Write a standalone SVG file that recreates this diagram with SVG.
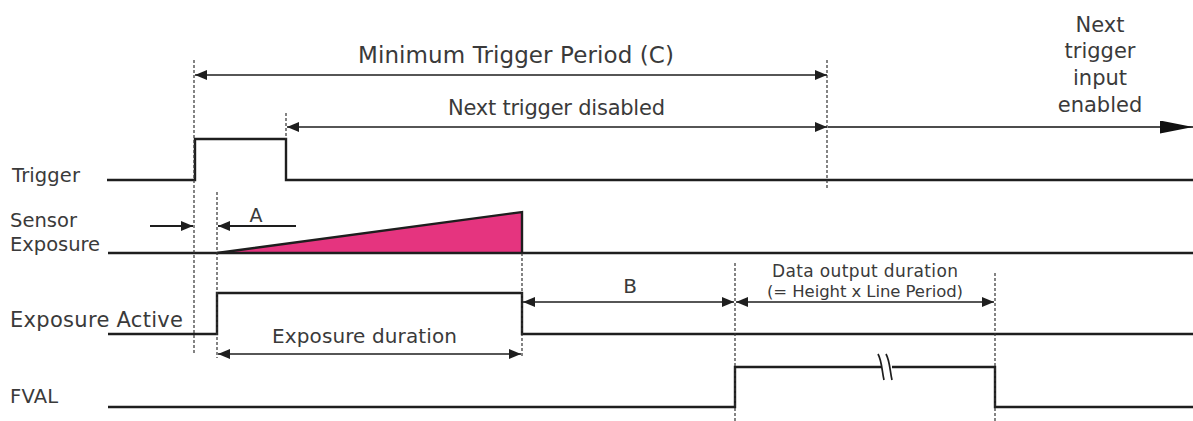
<svg xmlns="http://www.w3.org/2000/svg" width="1193" height="421" viewBox="0 0 1193 421">
<style>
text{font-family:"DejaVu Sans","Liberation Sans",sans-serif;fill:#3a3a3a}
.sig{fill:none;stroke:#1e1e1e;stroke-width:2.4}
.dash{fill:none;stroke:#333;stroke-width:1.2;stroke-dasharray:3 2}
.dim{fill:none;stroke:#1e1e1e;stroke-width:1.4;marker-start:url(#ah);marker-end:url(#ah)}
.lbl{font-size:19.5px}
</style>
<defs>
<marker id="ah" markerUnits="userSpaceOnUse" markerWidth="13" markerHeight="11" refX="12" refY="5" orient="auto-start-reverse">
<path d="M0,0 L12,5 L0,10 z" fill="#1e1e1e"/>
</marker>
<marker id="big" markerUnits="userSpaceOnUse" markerWidth="34" markerHeight="14" refX="33" refY="6.5" orient="auto">
<path d="M0,0 L33,6.5 L0,13 z" fill="#111"/>
</marker>
</defs>

<g id="labels">
<text class="lbl" x="12" y="182" textLength="68">Trigger</text>
<text class="lbl" x="10" y="227" textLength="67">Sensor</text>
<text class="lbl" x="10" y="251" textLength="90">Exposure</text>
<text x="10" y="327" font-size="21" textLength="173">Exposure Active</text>
<text class="lbl" x="10" y="403" textLength="48">FVAL</text>
</g>

<g id="trigger">
<polyline class="sig" points="107,180 195,180 195,139 286,139 286,180 1193,180"/>
</g>

<g id="sensor-exposure">
<polygon points="217,253 522,212 522,253" fill="#e5347f"/>
<polyline class="sig" points="217,253 522,212 522,253"/>
<line class="sig" x1="108" y1="253" x2="1193" y2="253"/>
</g>

<g id="exposure-active">
<polyline class="sig" points="108,334 217,334 217,293 522,293 522,334 1193,334"/>
</g>

<g id="fval">
<polyline class="sig" points="108,407 735,407 735,367 995,367 995,407 1193,407"/>
<line x1="881" y1="367" x2="892" y2="367" stroke="#fff" stroke-width="4"/>
<path d="M878,354 C882,361 882,372 884,380" fill="none" stroke="#1e1e1e" stroke-width="1.7"/>
<path d="M886,354 C890,361 890,372 892,380" fill="none" stroke="#1e1e1e" stroke-width="1.7"/>
</g>

<g id="guides">
<line class="dash" x1="194" y1="60" x2="194" y2="355"/>
<line class="dash" x1="217" y1="192" x2="217" y2="358"/>
<line class="dash" x1="286" y1="113" x2="286" y2="139"/>
<line class="dash" x1="827" y1="60" x2="827" y2="190"/>
<line class="dash" x1="522" y1="253" x2="522" y2="356"/>
<line class="dash" x1="735" y1="263" x2="735" y2="421"/>
<line class="dash" x1="995" y1="273" x2="995" y2="421"/>
</g>

<g id="connectors">
<line class="dim" x1="195" y1="75" x2="827" y2="75"/>
<line class="dim" x1="287" y1="127" x2="827" y2="127"/>
<line x1="828" y1="127" x2="1193" y2="127" stroke="#111" stroke-width="1.6" marker-end="url(#big)"/>
<line x1="150" y1="226" x2="193" y2="226" stroke="#1e1e1e" stroke-width="2" marker-end="url(#ah)"/>
<line x1="296" y1="226" x2="218" y2="226" stroke="#1e1e1e" stroke-width="2" marker-end="url(#ah)"/>
<line class="dim" x1="218" y1="354" x2="521" y2="354"/>
<line class="dim" x1="523" y1="302" x2="734" y2="302"/>
<line class="dim" x1="736" y1="302" x2="994" y2="302"/>
</g>

<g id="annotations">
<text x="358" y="63" font-size="23" textLength="316">Minimum Trigger Period (C)</text>
<text x="448" y="115" font-size="21" textLength="217">Next trigger disabled</text>
<g font-size="21" text-anchor="middle">
<text x="1100" y="32">Next</text>
<text x="1100" y="58">trigger</text>
<text x="1100" y="85">input</text>
<text x="1100" y="112">enabled</text>
</g>
<text x="256" y="222" font-size="19" text-anchor="middle">A</text>
<text x="630" y="293" font-size="20" text-anchor="middle">B</text>
<text x="272" y="343" font-size="20" textLength="185">Exposure duration</text>
<text x="772" y="277" font-size="17" textLength="186">Data output duration</text>
<text x="767" y="297" font-size="16.5" textLength="196">(= Height x Line Period)</text>
</g>
</svg>
